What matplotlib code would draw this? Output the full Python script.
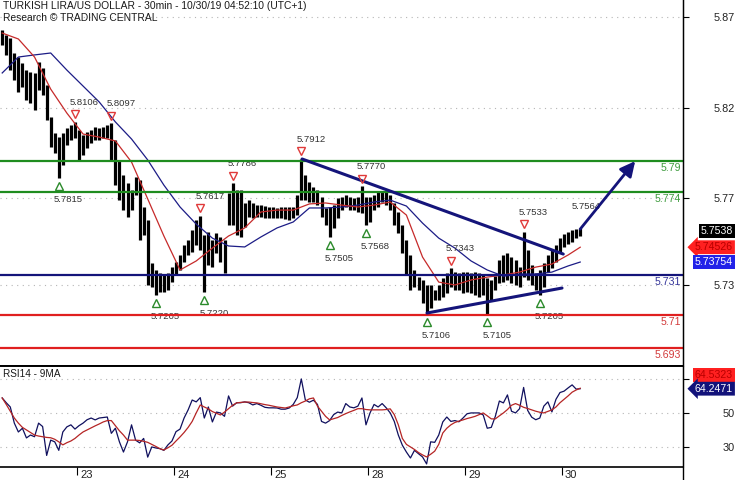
import matplotlib
matplotlib.use('Agg')
import matplotlib.pyplot as plt
import matplotlib.transforms as mt
from matplotlib.lines import Line2D
import numpy as np

plt.rcParams['font.family'] = ['Liberation Sans', 'DejaVu Sans']

# ---------------- data ----------------
title = "TURKISH LIRA/US DOLLAR - 30min - 10/30/19 04:52:10 (UTC+1)"
subtitle = "Research \u00a9 TRADING CENTRAL"
rsi_title = "RSI14 - 9MA"

high = [
    5.8584, 5.8558, 5.8542, 5.8464, 5.8443, 5.8412, 5.8375, 5.8365, 5.8360, 5.8417,
    5.8386, 5.8297, 5.8131, 5.8047, 5.8027, 5.8047, 5.8073, 5.8089, 5.8106, 5.8063,
    5.8037, 5.8053, 5.8063, 5.8079, 5.8073, 5.8079, 5.8089, 5.8097, 5.8011, 5.7907,
    5.7829, 5.7787, 5.7750, 5.7818, 5.7803, 5.7662, 5.7594, 5.7370, 5.7334, 5.7318,
    5.7313, 5.7318, 5.7349, 5.7375, 5.7412, 5.7464, 5.7490, 5.7542, 5.7594, 5.7617,
    5.7516, 5.7532, 5.7490, 5.7526, 5.7506, 5.7490, 5.7735, 5.7786, 5.7750, 5.7750,
    5.7683, 5.7698, 5.7683, 5.7672, 5.7672, 5.7667, 5.7662, 5.7662, 5.7657, 5.7662,
    5.7662, 5.7662, 5.7662, 5.7724, 5.7912, 5.7829, 5.7792, 5.7766, 5.7750, 5.7714,
    5.7657, 5.7662, 5.7672, 5.7709, 5.7714, 5.7724, 5.7714, 5.7709, 5.7714, 5.7770,
    5.7714, 5.7714, 5.7724, 5.7740, 5.7745, 5.7740, 5.7724, 5.7683, 5.7636, 5.7568,
    5.7490, 5.7412, 5.7334, 5.7297, 5.7282, 5.7256, 5.7256, 5.7230, 5.7256, 5.7292,
    5.7318, 5.7343, 5.7323, 5.7318, 5.7323, 5.7323, 5.7318, 5.7323, 5.7318, 5.7308,
    5.7292, 5.7282, 5.7302, 5.7386, 5.7412, 5.7422, 5.7401, 5.7386, 5.7349, 5.7533,
    5.7438, 5.7360, 5.7318, 5.7334, 5.7370, 5.7412, 5.7438, 5.7464, 5.7500, 5.7521,
    5.7532, 5.7542, 5.7547, 5.7553]
low = [
    5.8506, 5.8454, 5.8375, 5.8323, 5.8261, 5.8287, 5.8219, 5.8204, 5.8167, 5.8271,
    5.8245, 5.8115, 5.7974, 5.7943, 5.7815, 5.7881, 5.7985, 5.8011, 5.8021, 5.7907,
    5.7933, 5.7969, 5.7995, 5.8011, 5.8011, 5.8021, 5.8021, 5.7907, 5.7777, 5.7698,
    5.7646, 5.7610, 5.7646, 5.7724, 5.7490, 5.7516, 5.7256, 5.7245, 5.7205, 5.7219,
    5.7219, 5.7230, 5.7271, 5.7308, 5.7334, 5.7375, 5.7412, 5.7428, 5.7464, 5.7438,
    5.7220, 5.7360, 5.7349, 5.7422, 5.7375, 5.7318, 5.7568, 5.7568, 5.7516, 5.7506,
    5.7558, 5.7610, 5.7605, 5.7610, 5.7610, 5.7605, 5.7605, 5.7605, 5.7605, 5.7605,
    5.7599, 5.7594, 5.7605, 5.7620, 5.7698, 5.7698, 5.7688, 5.7688, 5.7672, 5.7610,
    5.7568, 5.7505, 5.7553, 5.7605, 5.7646, 5.7662, 5.7646, 5.7646, 5.7636, 5.7631,
    5.7568, 5.7584, 5.7646, 5.7662, 5.7688, 5.7672, 5.7646, 5.7568, 5.7526, 5.7422,
    5.7308, 5.7230, 5.7245, 5.7230, 5.7162, 5.7106, 5.7136, 5.7178, 5.7178, 5.7193,
    5.7214, 5.7245, 5.7230, 5.7230, 5.7214, 5.7219, 5.7214, 5.7204, 5.7193, 5.7204,
    5.7105, 5.7178, 5.7230, 5.7266, 5.7271, 5.7282, 5.7266, 5.7256, 5.7245, 5.7297,
    5.7282, 5.7256, 5.7230, 5.7205, 5.7245, 5.7323, 5.7344, 5.7375, 5.7422, 5.7454,
    5.7469, 5.7480, 5.7500, 5.7511]
last_close = 5.7538

# moving averages sampled every 4 bars (+ last bar)
ma_idx = list(range(0, 141, 4)) + [143]
ma_red = [5.8568, 5.8537, 5.8443, 5.8276, 5.8151, 5.8042, 5.8026, 5.8006, 5.7896, 5.7704,
          5.7511, 5.7334, 5.7381, 5.7448, 5.7511, 5.7553, 5.7636, 5.7646, 5.7646, 5.7678,
          5.7683, 5.7672, 5.7662, 5.7672, 5.7688, 5.7620, 5.7401, 5.7271, 5.7256, 5.7282,
          5.7297, 5.7308, 5.7323, 5.7349, 5.7365, 5.7412, 5.74526]
ma_blue = [5.8360, 5.8443, 5.8454, 5.8464, 5.8375, 5.8292, 5.8209, 5.8105, 5.8016, 5.7907,
           5.7776, 5.7662, 5.7573, 5.7500, 5.7459, 5.7454, 5.7506, 5.7553, 5.7584, 5.7657,
           5.7657, 5.7662, 5.7672, 5.7688, 5.7698, 5.7667, 5.7578, 5.7500, 5.7448, 5.7381,
           5.7334, 5.7302, 5.7313, 5.7313, 5.7323, 5.7355, 5.73754]

rsi = [
    58.8, 56, 53.5, 44, 38.8, 41, 35.3, 37, 36, 44,
    42, 25, 34, 33, 28, 38.8, 41.8, 43, 40.5, 42.5,
    44, 46, 47, 45.9, 47, 47.3, 47.6, 38, 41, 33,
    27, 33, 43, 34, 32.4, 35, 24, 30, 29.4, 29,
    28, 31.2, 33.5, 39, 40.5, 47, 51.8, 57.6, 56.5, 59,
    47, 53.5, 44.7, 50.5, 50, 48, 60, 54, 56, 56,
    56.5, 56, 54.7, 55.5, 54.5, 53.3, 53, 53, 52.9, 52.2,
    52.2, 52.9, 55, 59, 70, 57.6, 56.3, 57.5, 55, 45,
    44, 45.5, 49, 50.5, 50, 55.5, 53.5, 53, 54, 58.8,
    43, 50, 55, 53.5, 55.5, 53, 50, 45, 37, 31,
    27, 23.5, 28, 26, 24.1, 20, 33, 32.7, 37, 44.7,
    47.6, 45, 45.5, 44.8, 47, 49.5, 50, 50, 50, 48.8,
    41, 41.5, 48, 57, 55.9, 60.6, 51, 50, 52.5, 65,
    51.5, 47.5, 46, 47, 54, 56.5, 50.6, 58, 62, 62.8,
    64.7, 66.5, 64, 64.2471]
rsi_ma = [
    58.8, 55, 51, 47, 44, 41.5, 40, 38.5, 37, 36.4,
    36, 35.6, 35.4, 34.5, 33, 31.2, 32.5, 33.5, 35, 37,
    38.8, 40, 41.2, 42.4, 43.5, 44.7, 45.5, 45.5, 42.5, 39.5,
    37, 34, 34, 34, 33.8, 33.3, 32.7, 31.5, 30.3, 29,
    28.2, 29.5, 31, 33.5, 35.9, 38.5, 41.5, 45, 50, 54.7,
    53.5, 52.4, 50.8, 49.8, 48.8, 50.5, 52.5, 54.5, 55.9, 56.2,
    56.4, 56.4, 56.1, 55.9, 55.4, 54.9, 54.5, 54, 53.5, 53.2,
    52.9, 53.5, 54.2, 54.7, 56, 57, 58.3, 58.8, 54, 51,
    48, 45.9, 46.6, 47.3, 48.5, 49.6, 50.6, 51.5, 52.5, 52.5,
    52, 51.8, 51.8, 51.8, 51.8, 52, 52.4, 49, 43, 35,
    31.5, 30, 28.5, 26.7, 25.3, 24.1, 25.7, 27.5, 31.5, 38.2,
    41, 43, 44.4, 45.2, 45.9, 46.7, 47.3, 48, 49, 50,
    48.3, 46.5, 46.5, 48.3, 50, 52, 54.5, 55.5, 54.5, 53.3,
    52.6, 51.8, 51, 50.4, 50, 50.9, 51.8, 53.5, 56, 58,
    60, 62.2, 63.5, 64.5323]

day_labels = ["23", "24", "25", "28", "29", "30"]
first_day_bar = 18.5          # bar index where Oct 23 starts (hourly bars)
bars_per_day = 24

levels = [5.79, 5.774, 5.731, 5.71, 5.693]
level_kind = ["res", "res", "piv", "sup", "sup"]

price_ticks = [5.865, 5.818, 5.771, 5.7255]
price_tick_labels = ["5.87", "5.82", "5.77", "5.73"]
rsi_ticks = [30, 50, 70]
rsi_tick_labels = ["30", "50", ""]

# swing annotations: bar index and which extreme
ann_idx = [27, 18, 14, 38, 50, 49, 57, 74, 81, 89, 90, 105, 111, 120, 129, 133]
ann_kind = ["H", "H", "L", "L", "L", "H", "H", "H", "L", "H", "L", "L", "H", "L", "H", "L"]

# trend lines (bar index, price)
down_trend = [(74.2, 5.7912), (138.8, 5.7417)]
up_trend = [(105.1, 5.7110), (138.5, 5.7240)]
arrow_from = (143, 5.7547)
arrow_to = (156.6, 5.7901)
target_text = "5.7564"

# ---------------- style ----------------
NAVY = '#14147a'
GREEN = '#1f8c1f'
RED = '#e01f1f'
lvl_line_col = {"res": GREEN, "piv": NAVY, "sup": RED}
lvl_txt_col = {"res": '#3f9c3f', "piv": '#35359a', "sup": '#d23a3a'}

def pt(p):
    return p * 0.72

fig = plt.figure(figsize=(7.35, 4.8), dpi=100)
W, H = 735.0, 480.0
ax = fig.add_axes([0, 1 - 366 / H, 683 / W, 366 / H])
axr = fig.add_axes([0, 1 - 467 / H, 683 / W, 101 / H], sharex=ax)

x = np.arange(len(high))
ax.set_xlim(-0.544, 168.43)
ax.set_ylim(5.6834, 5.874)
axr.set_ylim(18.2, 77.6)

# grid
for yv in price_ticks:
    ax.axhline(yv, color='#b5b5b5', lw=0.8, ls=(0, (1, 4)), zorder=0)
for yv in rsi_ticks:
    axr.axhline(yv, color='#b5b5b5', lw=0.8, ls=(0, (1, 4)), zorder=0)

# price bars
ax.vlines(x, low, high, color='black', lw=2.3, zorder=2)

# moving averages
ax.plot(ma_idx, ma_blue, color='#1c1c86', lw=0.9, zorder=3)
ax.plot(ma_idx, ma_red, color='#c62a2a', lw=0.9, zorder=3)

# levels
for lv, k in zip(levels, level_kind):
    ax.axhline(lv, color=lvl_line_col[k], lw=1.6, zorder=4)
    ax.annotate(f"{lv:g}", xy=(1, lv), xycoords=('axes fraction', 'data'),
                xytext=(pt(-2), pt(-2)), textcoords='offset points',
                ha='right', va='top', fontsize=7.6, color=lvl_txt_col[k])

# trend lines
ax.plot([p[0] for p in down_trend], [p[1] for p in down_trend], color=NAVY, lw=2.2,
        solid_capstyle='round', zorder=5)
ax.plot([p[0] for p in up_trend], [p[1] for p in up_trend], color=NAVY, lw=2.2,
        solid_capstyle='round', zorder=5)
ax.annotate('', xy=arrow_to, xytext=arrow_from,
            arrowprops=dict(arrowstyle='-|>,head_length=0.9,head_width=0.45',
                            color=NAVY, lw=2.0, shrinkA=0, shrinkB=0), zorder=5)
ax.annotate(target_text, xy=arrow_from, xytext=(pt(6), pt(23)), textcoords='offset points',
            ha='center', va='center', fontsize=6.8, color='#333333')

# swing annotations
up_off = mt.offset_copy(ax.transData, fig=fig, x=0, y=7.5, units='dots')
dn_off = mt.offset_copy(ax.transData, fig=fig, x=0, y=-8, units='dots')
for i, k in zip(ann_idx, ann_kind):
    if k == "H":
        v = high[i]
        ax.plot([i], [v], marker='v', ms=6.2, mfc='none', mec='#e03a3a', mew=1.0,
                transform=up_off, zorder=6)
        ax.annotate(f"{v:.4f}", xy=(i, v), xytext=(pt(-5), pt(19.5)), textcoords='offset points',
                    ha='left', va='center', fontsize=6.8, color='#333333')
    else:
        v = low[i]
        ax.plot([i], [v], marker='^', ms=6.2, mfc='none', mec='#2a8a2a', mew=1.0,
                transform=dn_off, zorder=6)
        ax.annotate(f"{v:.4f}", xy=(i, v), xytext=(pt(-5), pt(-21.5)), textcoords='offset points',
                    ha='left', va='center', fontsize=6.8, color='#333333')

# RSI
axr.plot(x, rsi, color='#10105e', lw=0.9, zorder=3)
axr.plot(x, rsi_ma, color='#b52525', lw=0.9, zorder=3)

# axes styling
for a in (ax, axr):
    a.spines['left'].set_visible(False)
    a.spines['right'].set_color('black')
    a.yaxis.tick_right()
    a.tick_params(axis='y', direction='out', length=4, width=0.8, pad=pt(46), labelsize=7.8,
                  colors='black')
ax.spines['top'].set_visible(False)
ax.spines['bottom'].set_linewidth(1.4)
axr.spines['top'].set_linewidth(1.4)
axr.spines['bottom'].set_linewidth(1.2)

ax.set_yticks(price_ticks)
ax.set_yticklabels(price_tick_labels)
axr.set_yticks(rsi_ticks)
axr.set_yticklabels(rsi_tick_labels)
for a in (ax, axr):
    for t in a.get_yticklabels():
        t.set_ha('right')
        t.set_color('#222222')

ax.tick_params(axis='x', bottom=False, labelbottom=False)
day_pos = [first_day_bar + bars_per_day * k for k in range(len(day_labels))]
axr.set_xticks(day_pos)
axr.set_xticklabels(day_labels)
axr.tick_params(axis='x', direction='out', length=6, width=0.8, pad=-4, labelsize=8)
shift = mt.ScaledTranslation(3 / 100, 0, fig.dpi_scale_trans)
for t in axr.get_xticklabels():
    t.set_ha('left')
    t.set_color('#222222')
    t.set_transform(t.get_transform() + shift)

# right-side value boxes
def side_box(a, val, text, fc, tc, style='square', dy=0):
    a.annotate(text, xy=(1, val), xycoords=('axes fraction', 'data'),
               xytext=(pt(50), pt(dy)), textcoords='offset points',
               ha='right', va='center', fontsize=7.6, color=tc,
               bbox=dict(boxstyle=f'{style},pad=0.18', fc=fc, ec='none'),
               annotation_clip=False, zorder=10)

side_box(ax, last_close, f"{last_close:.4f}", 'black', 'white')
side_box(ax, ma_red[-1], f"{ma_red[-1]:.5f}", '#ff2020', '#b80000', style='larrow')
side_box(ax, ma_blue[-1], f"{ma_blue[-1]:.5f}", '#2222e8', 'white')
side_box(axr, rsi_ma[-1], f"{rsi_ma[-1]:.4f}", '#ff2020', '#b80000', dy=13)
side_box(axr, rsi[-1], f"{rsi[-1]:.4f}", '#12127a', 'white', style='larrow')

# titles
fig.text(3 / W, 1 - 1 / H, title, ha='left', va='top', fontsize=7.4, color='#1a1a1a')
fig.text(3 / W, 1 - 13 / H, subtitle, ha='left', va='top', fontsize=7.4, color='#1a1a1a')
axr.text(3 / W * 735 / 683, 1 - 3 / 101, rsi_title, transform=axr.transAxes,
         ha='left', va='top', fontsize=7.2, color='#1a1a1a')

fig.add_artist(Line2D([683 / W, 683 / W], [0, 1], transform=fig.transFigure,
                      color='black', lw=1.0))

fig.savefig('out.png', dpi=100)
